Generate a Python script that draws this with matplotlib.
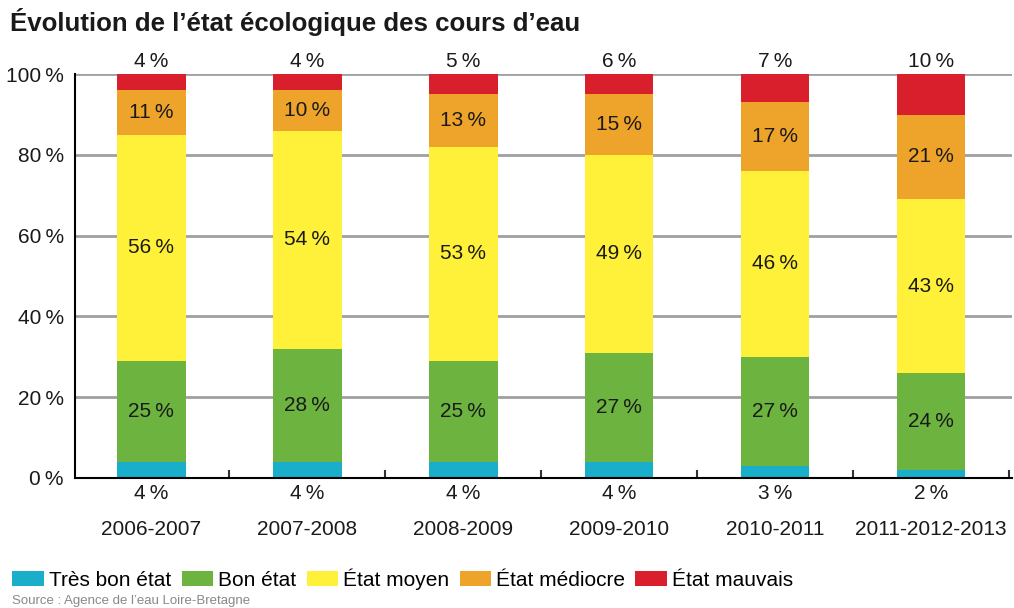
import matplotlib.pyplot as plt
import numpy as np

plt.rcParams['font.family'] = ['Liberation Sans', 'DejaVu Sans']

# Données
periodes = ["2006-2007", "2007-2008", "2008-2009", "2009-2010", "2010-2011", "2011-2012-2013"]
tres_bon = [4, 4, 4, 4, 3, 2]
bon = [25, 28, 25, 27, 27, 24]
moyen = [56, 54, 53, 49, 46, 43]
mediocre = [11, 10, 13, 15, 17, 21]
mauvais = [4, 4, 5, 6, 7, 10]

etats = ["Très bon état", "Bon état", "État moyen", "État médiocre", "État mauvais"]
couleurs = ["#19aec9", "#6cb33f", "#fff03a", "#eea32b", "#da1f2c"]
series = [tres_bon, bon, moyen, mediocre, mauvais]

pc = "\u2009%"  # espace fine avant le signe pourcent

fig = plt.figure(figsize=(10.14, 6.08), dpi=100)
ax = fig.add_axes([0.074, 0.214, 0.924, 0.664])

x = np.arange(len(periodes))
bas = np.zeros(len(periodes))
barres = []
for vals, coul, nom in zip(series, couleurs, etats):
    b = ax.bar(x, vals, bottom=bas, width=0.44, color=coul, label=nom, zorder=3)
    barres.append(b)
    bas += np.array(vals)

# Étiquettes dans les barres (bon, moyen, médiocre)
bas = np.array(tres_bon, dtype=float)
for vals in [bon, moyen, mediocre]:
    for i, v in enumerate(vals):
        ax.text(x[i], bas[i] + v / 2, f"{v}{pc}", ha='center', va='center',
                fontsize=15, color='#1a1a1a', zorder=4)
    bas += np.array(vals)

# Étiquettes au-dessus et en dessous
for i in range(len(periodes)):
    ax.text(x[i], 100.8, f"{mauvais[i]}{pc}", ha='center', va='bottom', fontsize=15, color='#1a1a1a')
    ax.text(x[i], -1.5, f"{tres_bon[i]}{pc}", ha='center', va='top', fontsize=15, color='#1a1a1a')
    ax.text(x[i], -10.5, periodes[i], ha='center', va='top', fontsize=15, color='#1a1a1a')

ax.set_xlim(-0.49, 5.52)
ax.set_ylim(0, 100)
ax.set_yticks(range(0, 101, 20))
ax.set_yticklabels([f"{v}{pc}" for v in range(0, 101, 20)], fontsize=15, color='#1a1a1a')
ax.tick_params(axis='y', length=0, pad=8)
ax.set_xticks(list(x + 0.5))
ax.set_xticklabels([])
ax.tick_params(axis='x', direction='in', length=6, width=1.5, color='#333333')
ax.grid(axis='y', color='#a0a0a0', linewidth=2, zorder=1)
for s in ['top', 'right']:
    ax.spines[s].set_visible(False)
ax.spines['left'].set_linewidth(1.5)
ax.spines['bottom'].set_linewidth(1.5)
ax.spines['bottom'].set_zorder(5)

fig.text(0.01, 0.963, "Évolution de l’état écologique des cours d’eau", fontsize=18.6,
         fontweight='bold', color='#1a1a1a', va='center')

fig.legend(handles=barres, labels=etats, loc='lower left', bbox_to_anchor=(0.004, 0.016),
           ncol=5, frameon=False, fontsize=15, handlelength=1.5, handleheight=0.68,
           handletextpad=0.25, columnspacing=0.5, borderaxespad=0)

fig.text(0.012, 0.001, "Source : Agence de l’eau Loire-Bretagne", fontsize=9.5, color='#888888', va='bottom')

fig.savefig("out.png", dpi=100)
